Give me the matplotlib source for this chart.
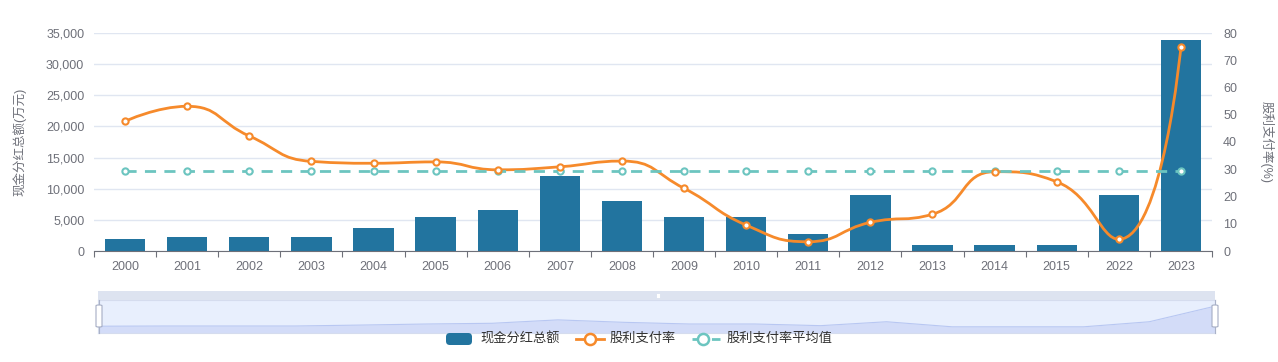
import numpy as np
import matplotlib
matplotlib.use("Agg")
import matplotlib.pyplot as plt
from matplotlib.path import Path
from matplotlib.patches import PathPatch, FancyBboxPatch, Rectangle
from matplotlib.lines import Line2D
from matplotlib.ticker import FuncFormatter, MultipleLocator

plt.rcParams['font.family'] = ['Liberation Sans', 'Noto Sans CJK SC', 'DejaVu Sans']

# data
years = ['2000', '2001', '2002', '2003', '2004', '2005', '2006', '2007', '2008',
         '2009', '2010', '2011', '2012', '2013', '2014', '2015', '2022', '2023']
cash_dividend = [1850, 2200, 2200, 2200, 3700, 5400, 6550, 12000, 8100,
                 5400, 5400, 2750, 9000, 900, 900, 900, 9000, 33900]
payout_ratio = [47.6, 53.1, 42.2, 32.9, 32.2, 32.7, 29.8, 30.9, 33.0,
                23.0, 9.5, 3.4, 10.5, 13.5, 29.1, 25.4, 4.3, 75.0]
payout_avg = 29.3

BLUE = '#22749f'
ORANGE = '#f68a2b'
TEAL = '#6cc5c0'
GRAY = '#6e7079'
GRID = '#e0e6f1'

W, H = 1278, 362
fig = plt.figure(figsize=(W / 100, H / 100), dpi=100)


def frac(x0, y0, x1, y1):
    # pixel box (top-left origin) -> figure fraction rect
    return [x0 / W, 1 - y1 / H, (x1 - x0) / W, (y1 - y0) / H]


def fxy(x, y):
    return x / W, 1 - y / H


x = np.arange(len(years))

# ---- main chart ----
ax = fig.add_axes(frac(94, 33, 1212, 251))
ax.bar(x, cash_dividend, width=0.65, color=BLUE, zorder=2)
ax.set_xlim(-0.5, len(years) - 0.5)
ax.set_ylim(0, 35000)
ax.yaxis.set_major_locator(MultipleLocator(5000))
ax.yaxis.set_major_formatter(FuncFormatter(lambda v, p: f'{int(v):,}'))
ax.grid(axis='y', color=GRID, linewidth=1, zorder=0)
ax.set_axisbelow(True)
ax.set_xticks(x)
ax.set_xticklabels(years)
ax.set_xticks(np.arange(-0.5, len(years)), minor=True)
ax.tick_params(axis='x', which='major', length=0, pad=7, labelsize=9, labelcolor=GRAY)
ax.tick_params(axis='x', which='minor', length=4, color=GRAY, width=0.8)
ax.tick_params(axis='y', length=0, pad=7, labelsize=9, labelcolor=GRAY)
for s in ['top', 'right', 'left']:
    ax.spines[s].set_visible(False)
ax.spines['bottom'].set_color(GRAY)
ax.spines['bottom'].set_linewidth(0.8)
ax.set_ylabel('现金分红总额(万元)', color=GRAY, fontsize=9, labelpad=14)

ax2 = ax.twinx()
ax2.set_ylim(0, 80)
ax2.yaxis.set_major_locator(MultipleLocator(10))
ax2.tick_params(axis='y', length=0, pad=8, labelsize=9, labelcolor=GRAY)
for s in ax2.spines.values():
    s.set_visible(False)
ax2.set_ylabel('股利支付率(%)', color=GRAY, fontsize=9, rotation=-90, labelpad=26)


def smooth_path(xs, ys, sx, sy, smooth=0.5):
    # echarts-like bezier smoothing with control point clamping, in pixel space
    pts = np.column_stack([np.asarray(xs, float) * sx, np.asarray(ys, float) * sy])
    n = len(pts)
    cin = [p.copy() for p in pts]
    cout = [p.copy() for p in pts]
    for i in range(1, n - 1):
        p, prev, nxt = pts[i], pts[i - 1], pts[i + 1]
        v = nxt - prev
        d0 = np.hypot(*(p - prev))
        d1 = np.hypot(*(nxt - p))
        r = d1 / (d0 + d1)
        c0 = p + v * smooth * r
        c0 = np.minimum(c0, np.maximum(nxt, p))
        c0 = np.maximum(c0, np.minimum(nxt, p))
        c1 = p - (c0 - p) * d0 / d1
        c1 = np.minimum(c1, np.maximum(prev, p))
        c1 = np.maximum(c1, np.minimum(prev, p))
        c0 = p + (p - c1) * d1 / d0
        cin[i] = c1
        cout[i] = c0
    verts = [pts[0]]
    codes = [Path.MOVETO]
    for i in range(n - 1):
        verts += [cout[i], cin[i + 1], pts[i + 1]]
        codes += [Path.CURVE4] * 3
    verts = np.array(verts) / np.array([sx, sy])
    return Path(verts, codes)


ax2.add_patch(PathPatch(smooth_path(x, payout_ratio, 62.1, 2.725), facecolor='none',
                        edgecolor=ORANGE, linewidth=2, zorder=3))
ax2.plot(x, payout_ratio, linestyle='none', marker='o', markersize=4.5,
         markerfacecolor='white', markeredgecolor=ORANGE, markeredgewidth=1.5, zorder=4)
ax2.plot(x, [payout_avg] * len(x), linestyle=(0, (4, 3)), color=TEAL, linewidth=2,
         marker='o', markersize=4.5, markerfacecolor='white', markeredgecolor=TEAL,
         markeredgewidth=1.5, zorder=3)

# ---- data zoom slider ----
sl_x0, sl_x1 = 98, 1215
fig.patches.append(Rectangle(fxy(sl_x0, 300), (sl_x1 - sl_x0) / W, 9 / H,
                             transform=fig.transFigure, facecolor='#dde3f0',
                             edgecolor='none', zorder=0))
sax = fig.add_axes(frac(sl_x0, 300, sl_x1, 333))
sax.set_facecolor('#e8effd')
lo, hi = min(cash_dividend), max(cash_dividend)
off = (hi - lo) * 0.3
sax.set_ylim(lo - off, hi + off)
sax.set_xlim(0, len(years) - 1)
sax.fill_between(x, cash_dividend, lo - off, color='#d3dcf8', linewidth=0)
sax.plot(x, cash_dividend, color='#b8c7f2', linewidth=0.8)
sax.set_xticks([])
sax.set_yticks([])
for s in sax.spines.values():
    s.set_color('#d5dcee')
    s.set_linewidth(0.8)

for hx in (sl_x0 + 1, sl_x1):
    fig.add_artist(Line2D([hx / W, hx / W], [1 - 300 / H, 1 - 333 / H],
                          transform=fig.transFigure, color='#aab2c8', linewidth=0.8))
    fig.patches.append(FancyBboxPatch(fxy(hx - 3, 327), 6 / W, 22 / H,
                                      boxstyle='round,pad=0,rounding_size=0.002',
                                      transform=fig.transFigure, facecolor='white',
                                      edgecolor='#a6aec4', linewidth=0.8, zorder=5))
for gx in (656.5, 658, 659.5):
    fig.add_artist(Line2D([gx / W, gx / W], [1 - 293.5 / H, 1 - 297 / H],
                          transform=fig.transFigure, color='white', linewidth=0.8))

# ---- legend ----
ly = 339
fig.patches.append(FancyBboxPatch(fxy(446, 345), 26 / W, 12 / H,
                                  boxstyle='round,pad=0,rounding_size=0.003',
                                  transform=fig.transFigure, facecolor=BLUE,
                                  edgecolor='none', mutation_aspect=W / H))
fig.text(480 / W, 1 - ly / H, '现金分红总额', fontsize=9.5, color='#333333', va='center')
fig.add_artist(Line2D([576 / W, 604 / W], [1 - ly / H] * 2, transform=fig.transFigure,
                      color=ORANGE, linewidth=2))
fig.add_artist(Line2D([590 / W], [1 - ly / H], transform=fig.transFigure, marker='o',
                      markersize=8, markerfacecolor='white', markeredgecolor=ORANGE,
                      markeredgewidth=1.8, linestyle='none'))
fig.text(610 / W, 1 - ly / H, '股利支付率', fontsize=9.5, color='#333333', va='center')
fig.add_artist(Line2D([692 / W, 720 / W], [1 - ly / H] * 2, transform=fig.transFigure,
                      color=TEAL, linewidth=2, linestyle=(0, (4, 3))))
fig.add_artist(Line2D([703 / W], [1 - ly / H], transform=fig.transFigure, marker='o',
                      markersize=8, markerfacecolor='white', markeredgecolor=TEAL,
                      markeredgewidth=1.8, linestyle='none'))
fig.text(727 / W, 1 - ly / H, '股利支付率平均值', fontsize=9.5, color='#333333', va='center')

fig.savefig('out.png', dpi=100)
